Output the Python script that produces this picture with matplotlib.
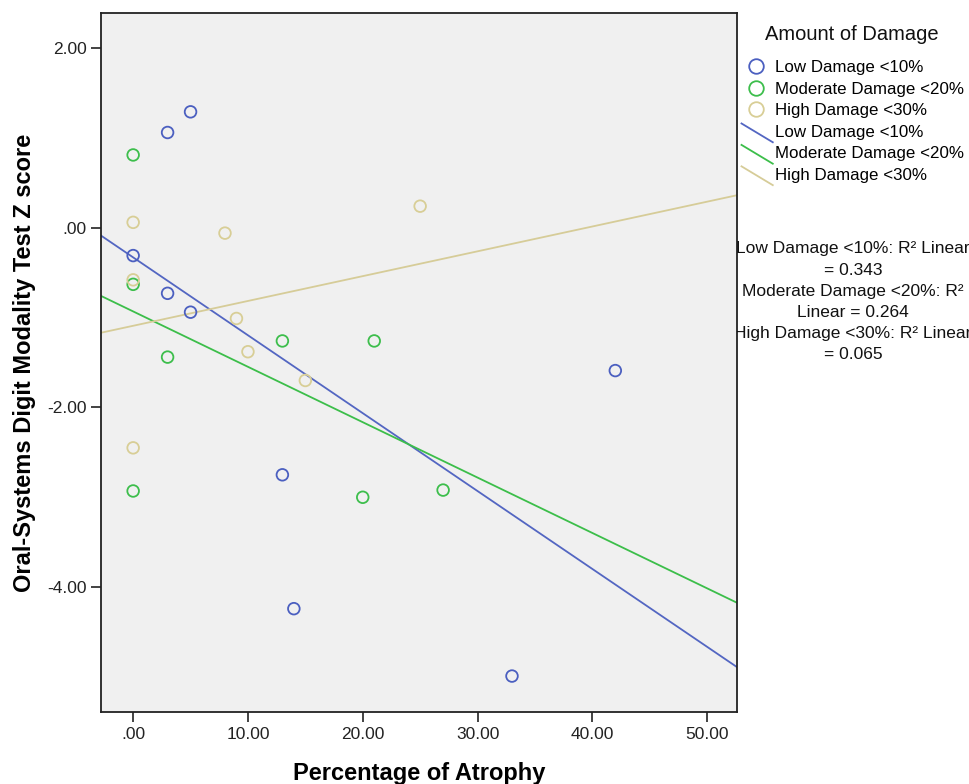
import numpy as np
import matplotlib
matplotlib.use("Agg")
import matplotlib.pyplot as plt
from matplotlib.lines import Line2D
from matplotlib.legend_handler import HandlerBase
from matplotlib.ticker import FuncFormatter
from matplotlib.transforms import Bbox, TransformedBbox

plt.rcParams['font.family'] = ['Liberation Sans', 'DejaVu Sans']

# ---- data ----
groups = ["Low Damage <10%", "Moderate Damage <20%", "High Damage <30%"]
low_x = [5, 3, 0, 3, 5, 13, 14, 33, 42]
low_y = [1.29, 1.06, -0.31, -0.73, -0.94, -2.75, -4.24, -4.99, -1.59]
mod_x = [0, 0, 3, 13, 21, 20, 27, 0]
mod_y = [0.81, -0.63, -1.44, -1.26, -1.26, -3.00, -2.92, -2.93]
high_x = [0, 0, 8, 9, 10, 15, 25, 0]
high_y = [0.06, -0.58, -0.06, -1.01, -1.38, -1.70, 0.24, -2.45]
r2_values = ["0.343", "0.264", "0.065"]
x_ticks = [0, 10, 20, 30, 40, 50]
y_ticks = [2, 0, -2, -4]

colors = ['#4B5FC0', '#3DBE4C', '#D8CE96']
line_colors = ['#5366C2', '#3CBE4A', '#D6CC98']

fig = plt.figure(figsize=(9.7, 7.84), dpi=100)
ax = fig.add_axes([101/970, 1-712/784, (737-101)/970, (712-13)/784])
ax.set_facecolor('#F0F0F0')

xlim = (-2.8, 52.6)
ylim = (-5.39, 2.39)
ax.set_xlim(*xlim)
ax.set_ylim(*ylim)

xs_all = [low_x, mod_x, high_x]
ys_all = [low_y, mod_y, high_y]

scat_handles = []
line_handles = []
for gx, gy, c, lc, name in zip(xs_all, ys_all, colors, line_colors, groups):
    ax.scatter(gx, gy, s=70, facecolors='none', edgecolors=c, linewidths=1.3, zorder=3)
    b, a = np.polyfit(gx, gy, 1)
    xx = np.array(xlim)
    ax.plot(xx, a + b*xx, color=lc, lw=1.3, zorder=2)
    scat_handles.append(Line2D([], [], marker='o', ls='none', markerfacecolor='none',
                               markeredgecolor=c, markersize=10.5, markeredgewidth=1.3, label=name))
    line_handles.append(Line2D([], [], color=lc, lw=1.3, label=name))


class DiagHandler(HandlerBase):
    def create_artists(self, legend, orig_handle, xdescent, ydescent, width, height, fontsize, trans):
        l = Line2D([-xdescent - 1, width - xdescent + 2], [height - ydescent + 1, -ydescent - 4],
                   color=orig_handle.get_color(), lw=orig_handle.get_linewidth())
        l.set_transform(trans)
        return [l]


def fmt_fn(v, p):
    s = f"{v:.2f}"
    if abs(v) < 1e-9:
        s = ".00"
    return s


fmt = FuncFormatter(fmt_fn)
ax.set_xticks(x_ticks)
ax.set_yticks(y_ticks)
ax.xaxis.set_major_formatter(fmt)
ax.yaxis.set_major_formatter(fmt)
ax.tick_params(axis='both', direction='out', length=7.5, width=1.2, color='#222222',
               labelsize=12.5, labelcolor='#222222', pad=3)
for s in ax.spines.values():
    s.set_color('#222222')
    s.set_linewidth(1.3)

ax.set_xlabel("Percentage of Atrophy", fontsize=17, fontweight='bold', labelpad=15)
ax.set_ylabel("Oral-Systems Digit Modality Test Z score", fontsize=17, fontweight='bold', labelpad=8)

fig.text(852/970, 1-35/784, "Amount of Damage", ha='center', va='center', fontsize=14.5,
         color='#111111')

leg = fig.legend(handles=scat_handles + line_handles,
                 handler_map={h: DiagHandler() for h in line_handles},
                 loc='upper left',
                 bbox_to_anchor=(739.5/970, 1-57/784), bbox_transform=fig.transFigure,
                 frameon=False, fontsize=12.2,
                 handlelength=1.6, handletextpad=0.3, labelspacing=0.38,
                 borderpad=0.2, borderaxespad=0)

clip = TransformedBbox(Bbox([[737/970, 0], [1, 1]]), fig.transFigure)
lines_txt = [
    f"Low Damage <10%: R² Linear", f"= {r2_values[0]}",
    f"Moderate Damage <20%: R²", f"Linear = {r2_values[1]}",
    f"High Damage <30%: R² Linear", f"= {r2_values[2]}",
]
for i, t in enumerate(lines_txt):
    txt = fig.text(853/970, 1-(249 + i*21.1)/784, t, ha='center', va='center', fontsize=12.5,
                   color='#111111')
    txt.set_clip_box(clip)
    txt.set_clip_on(True)

fig.savefig("out.png", dpi=100, facecolor='white')
